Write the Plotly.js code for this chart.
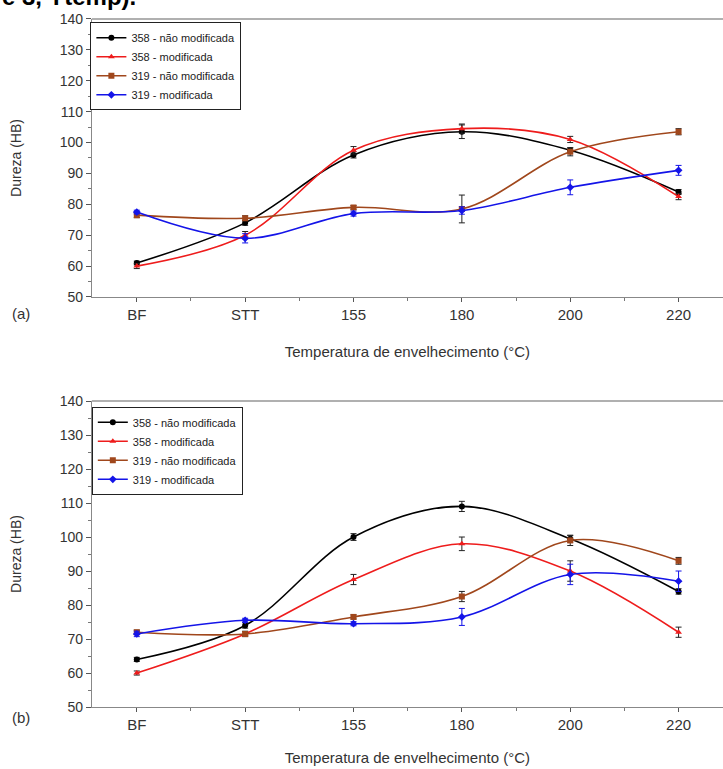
<!DOCTYPE html>
<html>
<head>
<meta charset="utf-8">
<script src="https://cdn.plot.ly/plotly-3.0.1.min.js"></script>
<style>html,body{margin:0;padding:0;background:#fff;}#chart{width:723px;height:769px;}</style>
</head>
<body>
<div id="chart"></div>
<script>
// Categories (x axis)
const categories = ["BF", "STT", "155", "180", "200", "220"];
const seriesNames = ["358 - não modificada", "358 - modificada", "319 - não modificada", "319 - modificada"];

// Panel (a)
const a_358_nm = [61, 74, 96, 103.5, 97.5, 84];
const a_358_nm_err = [0.6, 0.8, 1, 2.2, 0.8, 0.8];
const a_358_m = [60, 70, 97.5, 104.5, 101, 82.5];
const a_358_m_err = [0.8, 1.2, 1.2, 1.5, 1, 1];
const a_319_nm = [76.5, 75.5, 79, 78.5, 97, 103.5];
const a_319_nm_err = [0.8, 0.8, 0.6, 4.5, 1.3, 1];
const a_319_m = [77.5, 69, 77, 78, 85.5, 91];
const a_319_m_err = [0.6, 1.5, 0.8, 1.2, 2.4, 1.6];

// Panel (b)
const b_358_nm = [64, 74, 100, 109, 99.5, 84];
const b_358_nm_err = [0.6, 0.8, 1, 1.5, 1, 0.8];
const b_358_m = [60, 71.5, 87.5, 98, 90, 72];
const b_358_m_err = [0.6, 0.8, 1.5, 2, 3, 1.5];
const b_319_nm = [72, 71.5, 76.5, 82.5, 99, 93];
const b_319_nm_err = [0.6, 0.6, 0.6, 1.5, 1.5, 1];
const b_319_m = [71.5, 75.5, 74.5, 76.5, 89, 87];
const b_319_m_err = [0.8, 0.6, 0.6, 2.5, 3, 3];

const colors = ["#000000", "#ee1c1c", "#a0471c", "#1414e8"];
const symbols = ["circle", "triangle-up", "square", "diamond"];
const xIdx = categories.map((c, i) => i);

function mk(y, err, k, xa, ya, leg) {
  return {
    x: xIdx, y: y, name: seriesNames[k], xaxis: xa, yaxis: ya, legend: leg,
    type: "scatter", mode: "lines+markers",
    line: {color: colors[k], width: 1.6, shape: "spline", smoothing: 1},
    marker: {color: colors[k], symbol: symbols[k], size: 6},
    error_y: {type: "data", array: err, visible: true, color: k === 3 ? colors[k] : "#222", thickness: 1, width: 3}
  };
}

const data = [
  mk(a_358_nm, a_358_nm_err, 0, "x", "y", "legend"),
  mk(a_358_m, a_358_m_err, 1, "x", "y", "legend"),
  mk(a_319_nm, a_319_nm_err, 2, "x", "y", "legend"),
  mk(a_319_m, a_319_m_err, 3, "x", "y", "legend"),
  mk(b_358_nm, b_358_nm_err, 0, "x2", "y2", "legend2"),
  mk(b_358_m, b_358_m_err, 1, "x2", "y2", "legend2"),
  mk(b_319_nm, b_319_nm_err, 2, "x2", "y2", "legend2"),
  mk(b_319_m, b_319_m_err, 3, "x2", "y2", "legend2")
];

const fontFam = "Liberation Sans, Arial, sans-serif";
function xax(anchor, standoff) {
  return {
    anchor: anchor, domain: [0.127, 1], range: [-0.415, 5.41],
    tickmode: "array", tickvals: xIdx, ticktext: categories,
    ticks: "outside", ticklen: 4, tickcolor: "#555", tickwidth: 1,
    minor: {tickmode: "linear", tick0: 0.5, dtick: 1, ticks: "outside", ticklen: 3, tickcolor: "#777"},
    showline: true, linecolor: "#888", linewidth: 1, showgrid: false, zeroline: false,
    tickfont: {size: 15, color: "#333", family: fontFam},
    title: {text: "Temperatura de envelhecimento (°C)", font: {size: 15, color: "#333", family: fontFam}, standoff: standoff}
  };
}
function yax(anchor, dom) {
  return {
    anchor: anchor, domain: dom, range: [50, 140], dtick: 10, tick0: 50,
    ticks: "outside", ticklen: 5, tickcolor: "#555", tickwidth: 1,
    minor: {dtick: 5, ticks: "outside", ticklen: 3, tickcolor: "#777"},
    showline: true, linecolor: "#888", linewidth: 1, showgrid: false, zeroline: false,
    tickfont: {size: 14, color: "#333", family: fontFam},
    title: {text: "Dureza (HB)", font: {size: 14, color: "#333", family: fontFam}, standoff: 34}
  };
}

const legCommon = {
  bgcolor: "#ffffff", bordercolor: "#222", borderwidth: 1,
  font: {size: 11, color: "#222", family: fontFam},
  xanchor: "left", yanchor: "top", tracegroupgap: 0, itemwidth: 30
};

const layout = {
  width: 723, height: 769,
  margin: {l: 0, r: 0, t: 0, b: 0},
  paper_bgcolor: "#ffffff", plot_bgcolor: "#ffffff",
  font: {family: fontFam},
  showlegend: true,
  xaxis: xax("y", 24),
  yaxis: yax("x", [0.6138, 0.9753]),
  xaxis2: xax("y2", 20),
  yaxis2: yax("x2", [0.0806, 0.4785]),
  legend: Object.assign({x: 0.125, y: 0.971}, legCommon),
  legend2: Object.assign({x: 0.127, y: 0.471}, legCommon),
  shapes: [
    {type: "line", xref: "x domain", yref: "y domain", x0: 0, x1: 1, y0: 1, y1: 1, line: {color: "#b0b0b0", width: 2}},
    {type: "line", xref: "x2 domain", yref: "y2 domain", x0: 0, x1: 1, y0: 1, y1: 1, line: {color: "#b0b0b0", width: 2}}
  ],
  annotations: [
    {text: "<b>e 3, Ytemp).</b>", xref: "paper", yref: "paper", x: 0, y: 1.004, xanchor: "left", yanchor: "middle", showarrow: false, font: {size: 24, color: "#000", family: fontFam}},
    {text: "(a)", xref: "paper", yref: "paper", x: 0.014, y: 1 - 313 / 769, xanchor: "left", yanchor: "middle", showarrow: false, font: {size: 15, color: "#333", family: fontFam}},
    {text: "(b)", xref: "paper", yref: "paper", x: 0.014, y: 1 - 717 / 769, xanchor: "left", yanchor: "middle", showarrow: false, font: {size: 15, color: "#333", family: fontFam}}
  ]
};

Plotly.newPlot("chart", data, layout, {displayModeBar: false, staticPlot: true});
</script>
</body>
</html>
